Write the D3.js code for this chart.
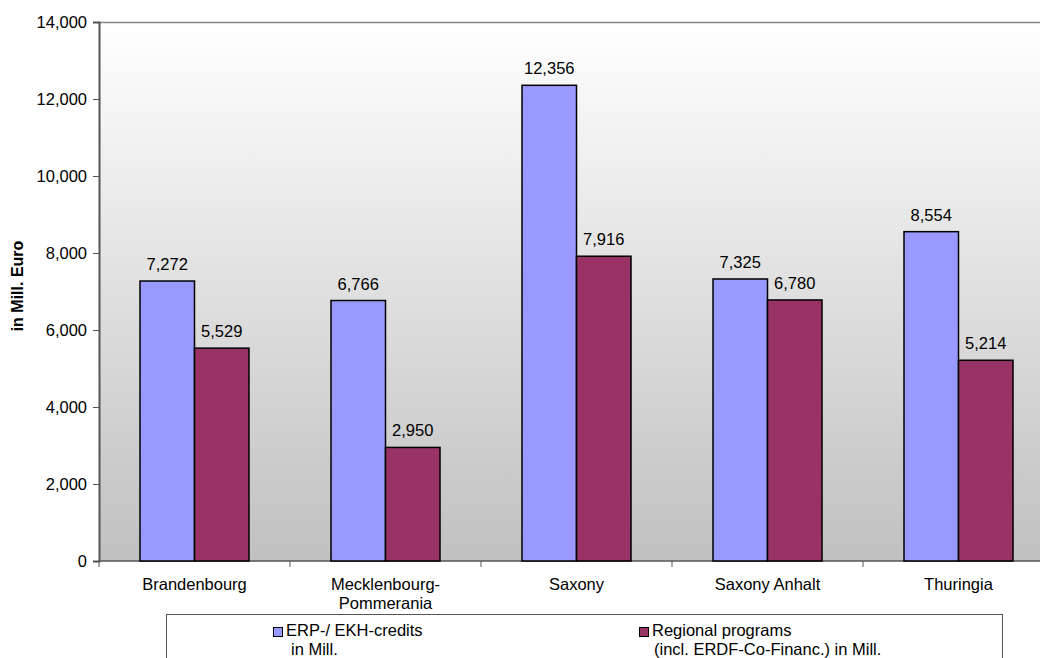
<!DOCTYPE html>
<html><head><meta charset="utf-8">
<script src="https://cdn.jsdelivr.net/npm/d3@7"></script>
<style>body{margin:0;background:#fff;} svg{display:block;font-family:"Liberation Sans",Arial,sans-serif;}</style>
</head><body>
<svg id="c" width="1040" height="658"></svg>
<script>
const categories = ["Brandenbourg", "Mecklenbourg-\nPommerania", "Saxony", "Saxony Anhalt", "Thuringia"];
const erpCredits = [7272, 6766, 12356, 7325, 8554];
const regionalPrograms = [5529, 2950, 7916, 6780, 5214];
const seriesNames = [["ERP-/ EKH-credits", "in Mill."], ["Regional programs", "(incl. ERDF-Co-Financ.) in Mill."]];
const seriesColors = ["#9999ff", "#993366"];
const yTicks = [0, 2000, 4000, 6000, 8000, 10000, 12000, 14000];
const yTitle = "in Mill. Euro";

const FS = 16.5;
const svg = d3.select("#c");
const L = 99, T = 22, B = 561, R = 1054;
const defs = svg.append("defs");
const g = defs.append("linearGradient").attr("id","bg").attr("x1",0).attr("y1",0).attr("x2",0).attr("y2",1);
g.append("stop").attr("offset","0%").attr("stop-color","#ffffff");
g.append("stop").attr("offset","100%").attr("stop-color","#c0c0c0");
svg.append("rect").attr("x",L).attr("y",T).attr("width",R-L).attr("height",B-T).attr("fill","url(#bg)");
svg.append("line").attr("x1",L).attr("x2",R).attr("y1",T+0.5).attr("y2",T+0.5).attr("stroke","#888").attr("stroke-width",1.5);

const y = d3.scaleLinear().domain([0,14000]).range([B,T]);
const x = d3.scaleBand().domain(categories).range([L,R]).paddingInner(0).paddingOuter(0);
const fmt = d3.format(",");

// y axis
const ya = svg.append("g").attr("transform",`translate(${L},0)`)
  .call(d3.axisLeft(y).tickValues(yTicks).tickFormat(fmt).tickSize(6).tickPadding(6));
ya.select(".domain").attr("stroke","#555").attr("stroke-width",2);
ya.selectAll(".tick line").attr("stroke","#555");
ya.selectAll("text").attr("font-size",FS).attr("fill","#000").attr("font-family","Liberation Sans, Arial, sans-serif");

// x axis
const xa = svg.append("g").attr("transform",`translate(0,${B})`);
xa.append("line").attr("x1",L).attr("x2",R).attr("y1",0).attr("y2",0).attr("stroke","#555").attr("stroke-width",1.5);
xa.selectAll("line.tk").data(categories.concat(["end"])).join("line").attr("class","tk")
  .attr("x1",(d,i)=> i<categories.length ? x(d) : R).attr("x2",(d,i)=> i<categories.length ? x(d) : R)
  .attr("y1",0).attr("y2",6).attr("stroke","#555");
categories.forEach(c=>{
  const lines = c.split("\n");
  const t = xa.append("text").attr("x",x(c)+x.bandwidth()/2).attr("y",29).attr("text-anchor","middle").attr("font-size",FS);
  lines.forEach((ln,i)=>t.append("tspan").attr("x",x(c)+x.bandwidth()/2).attr("dy",i?19:0).text(ln));
});

// bars
const barW = 54.5, offset = 41;
const series = [erpCredits, regionalPrograms];
series.forEach((vals,si)=>{
  svg.append("g").selectAll("rect").data(vals).join("rect")
    .attr("x",(d,i)=>x(categories[i])+offset+si*barW)
    .attr("y",d=>y(d)).attr("width",barW).attr("height",d=>B-y(d))
    .attr("fill",seriesColors[si]).attr("stroke","#000").attr("stroke-width",1.5);
  svg.append("g").selectAll("text").data(vals).join("text")
    .attr("x",(d,i)=>x(categories[i])+offset+si*barW+barW/2)
    .attr("y",d=>y(d)-11).attr("text-anchor","middle").attr("font-size",FS).text(d=>fmt(d));
});

// y title
svg.append("text").attr("transform","translate(23,286) rotate(-90)").attr("text-anchor","middle")
  .attr("font-size",16).attr("font-weight","bold").text(yTitle);

// legend
svg.append("rect").attr("x",166.5).attr("y",614.5).attr("width",836).attr("height",60).attr("fill","#fff").attr("stroke","#555");
const lx = [273.5, 639.5];
seriesNames.forEach((nm,i)=>{
  svg.append("rect").attr("x",lx[i]).attr("y",627.5).attr("width",9).attr("height",9).attr("fill",seriesColors[i]).attr("stroke","#000");
  svg.append("text").attr("x",lx[i]+12.5).attr("y",636).attr("font-size",FS).text(nm[0]);
  svg.append("text").attr("x",lx[i]+(i?14.5:17.5)).attr("y",655).attr("font-size",FS).text(nm[1]);
});
</script>
</body></html>
